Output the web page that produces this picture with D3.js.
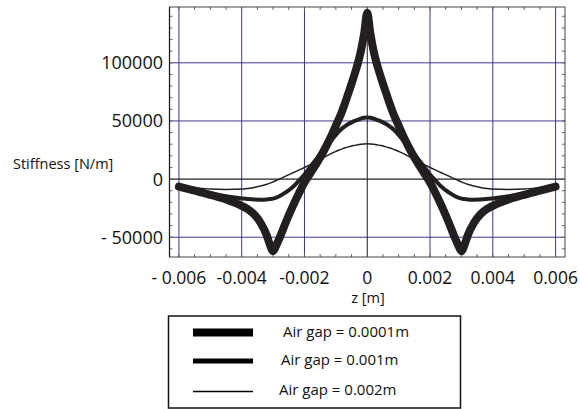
<!DOCTYPE html>
<html><head><meta charset="utf-8">
<script src="https://cdn.jsdelivr.net/npm/d3@7/dist/d3.min.js"></script>
<style>body{margin:0;background:#fff}svg{display:block}</style>
</head><body>
<svg id="c" width="580" height="409"></svg>
<script>
// ---- data ----
const zHalf = [0, 0.0001, 0.0002, 0.0003, 0.0004, 0.0005, 0.0006, 0.0007, 0.0008, 0.0009, 0.001, 0.0012, 0.0014, 0.0016, 0.0018, 0.002, 0.0022, 0.0024, 0.0026, 0.0028, 0.0029, 0.003, 0.0031, 0.0032, 0.0034, 0.0036, 0.0038, 0.004, 0.0045, 0.005, 0.0055, 0.006];
const gap00001 = [143000, 125000, 110500, 99500, 90500, 82000, 74000, 66000, 58500, 52000, 46000, 34000, 23500, 14000, 5500, -3000, -13500, -25000, -37500, -51000, -57000, -62000, -56500, -48500, -37500, -30500, -26000, -23000, -17500, -13500, -10000, -6500];
const gap0001 = [53000, 52700, 52000, 51000, 50000, 48800, 47300, 45600, 43600, 41000, 38000, 31500, 25000, 18000, 11000, 4000, -2000, -7500, -11500, -14800, -16000, -16800, -17200, -17500, -17700, -17600, -17200, -16600, -14800, -12200, -9200, -6000];
const gap0002 = [30300, 30200, 30000, 29600, 29000, 28400, 27700, 26900, 26000, 25000, 23800, 21300, 18500, 15500, 12600, 10000, 7500, 5000, 2500, 0, -1200, -2400, -3500, -4500, -6000, -7200, -8000, -8600, -9000, -8600, -7200, -5500];
const seriesNames = ["Air gap = 0.0001m", "Air gap = 0.001m", "Air gap = 0.002m"];
const xTicks = [-0.006, -0.004, -0.002, 0, 0.002, 0.004, 0.006];
const xTickLabels = ["- 0.006", "-0.004", "-0.002", "0", "0.002", "0.004", "0.006"];
const yTicks = [-50000, 0, 50000, 100000];
const yTickLabels = ["- 50000", "0", "50000", "100000"];

// full symmetric series
function full(vals){
  const pts = [];
  for (let i = zHalf.length - 1; i > 0; i--) pts.push([-zHalf[i], vals[i]]);
  for (let i = 0; i < zHalf.length; i++) pts.push([zHalf[i], vals[i]]);
  return pts;
}
const series = [full(gap00001), full(gap0001), full(gap0002)];
const widths = [8, 4, 1.5];
const legendWidths = [8, 5, 1.5];

const svg = d3.select("#c");
const L = 169.5, R = 565, T = 7, B = 257;
const x = d3.scaleLinear().domain([-0.0063, 0.0063]).range([L, R]);
const y = d3.scaleLinear().domain([-67000, 148000]).range([B, T]);

const navy = "#3a3a8c", ink = "#231f20";
const g = svg.append("g");

// grid
g.selectAll(".gx").data(xTicks.filter(d => d !== 0)).join("line")
  .attr("x1", d => x(d)).attr("x2", d => x(d)).attr("y1", T).attr("y2", B)
  .attr("stroke", navy).attr("stroke-width", 1);
g.selectAll(".gy").data(yTicks.filter(d => d !== 0)).join("line")
  .attr("y1", d => y(d)).attr("y2", d => y(d)).attr("x1", L).attr("x2", R)
  .attr("stroke", navy).attr("stroke-width", 1);
// zero lines
g.append("line").attr("x1", x(0)).attr("x2", x(0)).attr("y1", T).attr("y2", B).attr("stroke", ink).attr("stroke-width", 1);
g.append("line").attr("x1", L).attr("x2", R).attr("y1", y(0)).attr("y2", y(0)).attr("stroke", ink).attr("stroke-width", 1.2);

// minor ticks
const xMinor = d3.range(-12, 13).map(i => i * 0.0005);
const yMinor = d3.range(-6, 15).map(i => i * 10000);
const tk = 3;
xMinor.forEach(v => {
  g.append("line").attr("x1", x(v)).attr("x2", x(v)).attr("y1", B).attr("y2", B - tk).attr("stroke", "#666");
  g.append("line").attr("x1", x(v)).attr("x2", x(v)).attr("y1", T).attr("y2", T + tk).attr("stroke", "#666");
});
yMinor.forEach(v => {
  g.append("line").attr("y1", y(v)).attr("y2", y(v)).attr("x1", L).attr("x2", L + tk).attr("stroke", "#666");
  g.append("line").attr("y1", y(v)).attr("y2", y(v)).attr("x1", R).attr("x2", R - tk).attr("stroke", "#666");
});

// frame
g.append("rect").attr("x", L).attr("y", T).attr("width", R - L).attr("height", B - T)
  .attr("fill", "none").attr("stroke", "#444").attr("stroke-width", 1);
g.append("line").attr("x1", L).attr("x2", L).attr("y1", T).attr("y2", B).attr("stroke", ink).attr("stroke-width", 1.3);

// curves
const line = d3.line().x(d => x(d[0])).y(d => y(d[1])).curve(d3.curveMonotoneX);
series.forEach((s, i) => {
  g.append("path").attr("d", line(s)).attr("fill", "none").attr("stroke", ink)
    .attr("stroke-width", widths[i]).attr("stroke-linecap", "round").attr("stroke-linejoin", "round");
});

// tick labels
const font = "'Open Sans', sans-serif";
g.selectAll(".yl").data(yTicks).join("text")
  .attr("x", 163).attr("y", d => y(d) + 6.5).attr("text-anchor", "end")
  .attr("font-family", font).attr("font-size", 18).attr("fill", "#111")
  .text((d, i) => yTickLabels[i]);
g.selectAll(".xl").data(xTicks).join("text")
  .attr("x", d => x(d)).attr("y", 284).attr("text-anchor", "middle")
  .attr("font-family", font).attr("font-size", 17.5).attr("fill", "#111")
  .text((d, i) => xTickLabels[i]);

// axis titles
svg.append("text").attr("x", 13).attr("y", 169).attr("font-family", font).attr("font-size", 14.5).attr("fill", "#111").text("Stiffness [N/m]");
svg.append("text").attr("x", 368).attr("y", 303).attr("text-anchor", "middle").attr("font-family", font).attr("font-size", 14.5).attr("fill", "#111").text("z [m]");

// legend
svg.append("rect").attr("x", 168.5).attr("y", 316).attr("width", 292).attr("height", 92)
  .attr("fill", "#fff").attr("stroke", "#111").attr("stroke-width", 1.5);
const legY = [332.5, 361, 391.5];
const legTX = [283, 281, 279];
const legTY = [336.5, 364.5, 394.5];
seriesNames.forEach((nm, i) => {
  svg.append("line").attr("x1", 193).attr("x2", 253).attr("y1", legY[i]).attr("y2", legY[i])
    .attr("stroke", "#000").attr("stroke-width", legendWidths[i]);
  svg.append("text").attr("x", legTX[i]).attr("y", legTY[i]).attr("font-family", font)
    .attr("font-size", 15).attr("fill", "#111").text(nm);
});
</script>
</body></html>
